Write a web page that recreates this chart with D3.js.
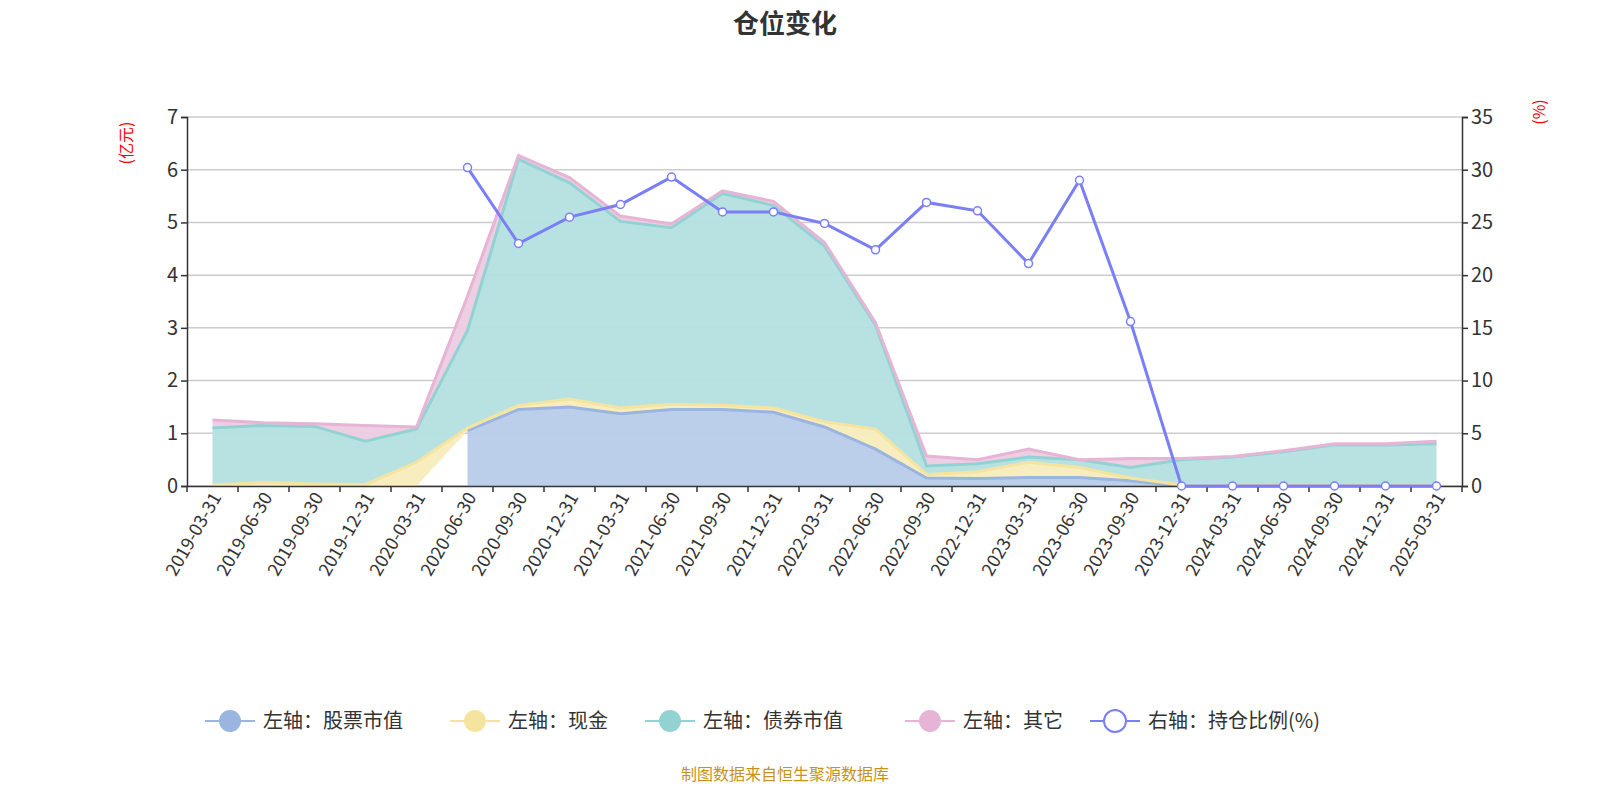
<!DOCTYPE html>
<html><head><meta charset="utf-8">
<script src="https://cdn.jsdelivr.net/npm/d3@7/dist/d3.min.js"></script>
<style>body{margin:0;background:#fff}text{font-family:"Noto Sans CJK SC","Noto Sans",sans-serif}</style>
</head><body><svg id="c" width="1600" height="800"></svg>
<script>
const dates=["2019-03-31","2019-06-30","2019-09-30","2019-12-31","2020-03-31","2020-06-30","2020-09-30","2020-12-31","2021-03-31","2021-06-30","2021-09-30","2021-12-31","2022-03-31","2022-06-30","2022-09-30","2022-12-31","2023-03-31","2023-06-30","2023-09-30","2023-12-31","2024-03-31","2024-06-30","2024-09-30","2024-12-31","2025-03-31"];
const stock=[null,null,null,null,null,1.05,1.45,1.5,1.37,1.45,1.45,1.4,1.12,0.7,0.15,0.14,0.16,0.16,0.1,0,0,0,0,0,0];
const cash=[0.02,0.07,0.04,0.03,0.45,0.05,0.08,0.15,0.11,0.1,0.08,0.08,0.1,0.38,0.07,0.13,0.29,0.19,0.05,0.02,0.01,0.01,0.01,0.01,0.01];
const bond=[1.08,1.08,1.09,0.82,0.63,1.85,4.67,4.1,3.54,3.35,4.02,3.84,3.33,1.97,0.16,0.15,0.1,0.15,0.2,0.48,0.54,0.64,0.77,0.77,0.79];
const other=[0.15,0.05,0.05,0.3,0.04,0.65,0.07,0.1,0.1,0.07,0.05,0.08,0.07,0.05,0.19,0.08,0.15,0.0,0.17,0.02,0.01,0.02,0.02,0.02,0.05];
const ratio=[null,null,null,null,null,30.2,23,25.5,26.7,29.3,26,26,24.9,22.4,26.9,26.1,21.1,29,15.6,0,0,0,0,0,0];
const leftTicks=[0,1,2,3,4,5,6,7], rightTicks=[0,5,10,15,20,25,30,35];
const names=["左轴：股票市值","左轴：现金","左轴：债券市值","左轴：其它","右轴：持仓比例(%)"];
const lineC=["#9ab5e0","#f5e4a0","#93d2d3","#e6b5d6","#7a7ff5"];
const fillC=["#b8cce9","#f8ecbb","#b4e0e0","#eccbe2"];

const svg=d3.select("#c");
const L=187,R=1462,T=117,B=486;
const x=d3.scaleBand().domain(dates).range([L,R]);
const cx=d=>x(d)+x.bandwidth()/2;
const yl=d3.scaleLinear().domain([0,7]).range([B,T]);
const yr=d3.scaleLinear().domain([0,35]).range([B,T]);

svg.append("text").attr("x",785).attr("y",33).attr("text-anchor","middle").attr("font-size",26).attr("font-weight","bold").attr("fill","#333").text("仓位变化");

svg.append("g").selectAll("line").data(leftTicks).join("line").attr("x1",L).attr("x2",R).attr("y1",d=>yl(d)).attr("y2",d=>yl(d)).attr("stroke","#ccc").attr("stroke-width",1.5);

const series=[stock,cash,bond,other];
const base=dates.map(()=>0);
const layers=series.map(s=>{const lo=base.slice();s.forEach((v,i)=>base[i]+=(v||0));return dates.map((d,i)=>({d,lo:lo[i],hi:base[i],def:s[i]!=null}));});
layers.forEach((ly,k)=>{
  const pts=ly.filter(p=>p.def);
  svg.append("path").datum(pts).attr("d",d3.area().x(p=>cx(p.d)).y0(p=>yl(p.lo)).y1(p=>yl(p.hi))).attr("fill",fillC[k]).attr("opacity",0.95);
});
layers.forEach((ly,k)=>{
  const pts=ly.filter(p=>p.def);
  svg.append("path").datum(pts).attr("d",d3.line().x(p=>cx(p.d)).y(p=>yl(p.hi))).attr("fill","none").attr("stroke",lineC[k]).attr("stroke-width",3);
});

const ax=svg.append("g").attr("transform",`translate(0,${B})`).call(d3.axisBottom(x).tickSize(6).tickSizeOuter(0));
ax.selectAll(".tick line").attr("transform",`translate(${-x.bandwidth()/2},0)`);
ax.append("line").attr("x1",R).attr("x2",R).attr("y1",0).attr("y2",6).attr("stroke","#333");
ax.selectAll("path,line").attr("stroke","#333").attr("stroke-width",1.5);
ax.selectAll("text").attr("font-size",18).attr("fill","#333").attr("text-anchor","end").attr("transform","translate(4,8) rotate(-60)").attr("dy","0.35em").attr("y",0).attr("x",0);
const al=svg.append("g").attr("transform",`translate(${L},0)`).call(d3.axisLeft(yl).tickValues(leftTicks).tickFormat(d3.format("d")).tickSize(6));
const ar=svg.append("g").attr("transform",`translate(${R},0)`).call(d3.axisRight(yr).tickValues(rightTicks).tickFormat(d3.format("d")).tickSize(6));
[al,ar].forEach(a=>{a.selectAll("path,line").attr("stroke","#333").attr("stroke-width",1.5);a.selectAll("text").attr("font-size",20).attr("fill","#333");});
svg.append("text").attr("transform","translate(132,143) rotate(-90)").attr("text-anchor","middle").attr("font-size",16).attr("fill","red").text("(亿元)");
svg.append("text").attr("transform","translate(1545,112) rotate(-90)").attr("text-anchor","middle").attr("font-size",16).attr("fill","red").text("(%)");

const rp=dates.map((d,i)=>({d,v:ratio[i]})).filter(p=>p.v!=null);
svg.append("path").datum(rp).attr("d",d3.line().x(p=>cx(p.d)).y(p=>yr(p.v))).attr("fill","none").attr("stroke",lineC[4]).attr("stroke-width",3);
svg.append("g").selectAll("circle").data(rp).join("circle").attr("cx",p=>cx(p.d)).attr("cy",p=>yr(p.v)).attr("r",4).attr("fill","#fff").attr("stroke",lineC[4]).attr("stroke-width",1.5);

const lx=[205,450,645,905,1090];
names.forEach((n,i)=>{
  const g=svg.append("g").attr("transform",`translate(${lx[i]},721)`);
  g.append("line").attr("x1",0).attr("x2",50).attr("stroke",lineC[i]).attr("stroke-width",2);
  if(i<4) g.append("circle").attr("cx",25).attr("r",11).attr("fill",lineC[i]);
  else g.append("circle").attr("cx",25).attr("r",11).attr("fill","#fff").attr("stroke",lineC[i]).attr("stroke-width",2);
  g.append("text").attr("x",58).attr("dy","0.35em").attr("font-size",20).attr("fill","#333").text(n);
});
svg.append("text").attr("x",785).attr("y",780).attr("text-anchor","middle").attr("font-size",16).attr("fill","#c8921a").text("制图数据来自恒生聚源数据库");
</script></body></html>
